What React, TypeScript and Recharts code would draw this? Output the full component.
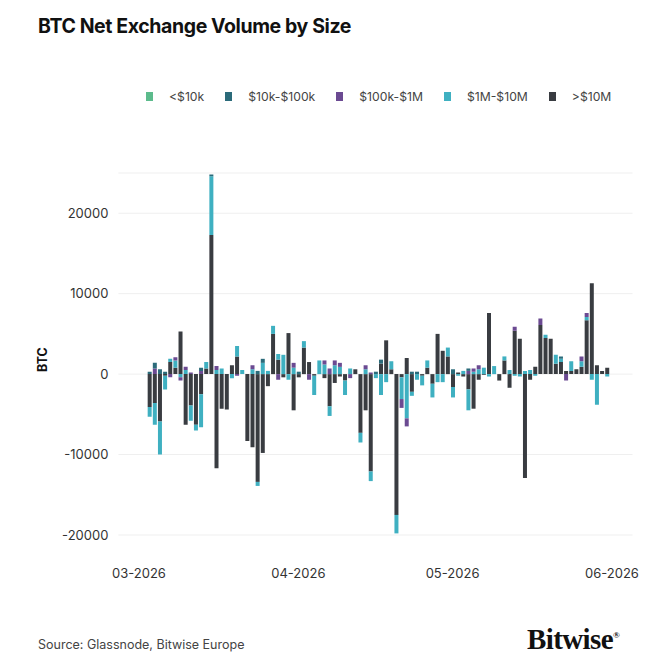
import { BarChart, Bar, XAxis, YAxis, CartesianGrid } from 'recharts';

// daily net exchange flows, 03 Mar - 31 May 2026 (BTC), one value per day
const dayStart = 2; // index of first bar, days after 1 Mar

const over10m = [
  -4100, -3600, -5900, -200, 1500, 800, 5300, -6300, -3900, -6300,
  -2500, 700, 17300, -11700, -4300, -4400, 1100, 2200, 0, -8300,
  -9100, -13400, -9800, -1500, 5000, 1800, -400, 5100, -4500, -400,
  3300, 1500, -200, 0, -500, -4000, -1100, -300, -800, 0,
  600, -7300, -4500, -12100, 0, 1300, 4200, 600, -17500, -400,
  2000, -2200, 0, -200, 800, -1200, 5000, 2900, 2200, -1600,
  200, -300, -1900, -4300, -700, -100, 7600, 0, -800, 1700,
  -1700, 5400, 4400, -12900, -700, 900, 6100, 4500, 4400, 1300,
  1500, 400, 400, 600, 900, 6700, 11300, 1100, 400, 800,
];
const m1to10m = [
  -1200, -2700, -4100, -1700, 400, 900, -400, 500, -1900, -700,
  -4100, 800, 7300, 500, 700, 0, -500, 1300, 500, 0,
  600, -500, 1400, 400, 1000, 700, 2400, -700, 800, 0,
  800, 0, -2400, 1700, 1200, -1200, 1100, 900, -1800, 700,
  0, -1200, 600, -1200, -500, -2600, -1000, 1000, -2300, -2700,
  -5500, -500, -700, -1200, 900, -1700, -1000, -1000, 1100, -1300,
  -200, 400, -2600, 300, 600, 800, -300, 1000, 0, 500,
  500, -200, -300, 400, 500, -200, 0, 400, 0, 1100,
  400, 0, 1200, 0, 700, 400, -700, -3800, 0, -300,
];
const k100to1m = [
  0, 700, 0, 0, -400, 400, -400, 400, 200, 0,
  400, 0, 0, 500, 0, 0, 0, -200, 0, 0,
  500, 0, 0, 0, 0, -700, 0, 0, 600, 0,
  0, -700, 0, 0, 500, 700, 600, 500, 0, -500,
  0, 0, 500, 200, 0, 0, 0, 0, 0, -1100,
  -1000, 0, 0, 0, 0, 0, 0, 0, 0, 0,
  0, 0, 400, 400, 500, 0, 0, 0, 0, 0,
  0, 500, 0, 0, 0, 0, 800, 0, 0, 0,
  0, -800, 0, 0, 600, 500, 0, 0, 0, 0,
];
const k10to100k = [
  300, 700, 600, 300, 0, 0, 0, 0, 0, 0,
  400, 0, 200, 0, 0, 0, 0, 0, 0, 0,
  0, 400, 500, 0, 0, 0, 0, 0, 0, 300,
  0, 0, 0, 0, 0, 0, 0, 0, 0, 0,
  0, 0, 0, 0, 300, 500, 0, 0, 0, 0,
  0, 300, 300, 0, 0, 0, 0, 0, 0, 600,
  0, 0, 300, 0, 0, 0, 0, 0, 0, 0,
  0, 0, 0, 0, 0, 0, 0, 0, 0, 0,
  300, 0, 0, 0, 0, 0, 0, 0, 0, 0,
];
const under10k = new Array(over10m.length).fill(0);

const monthTicks = [0, 31, 61, 92];
const monthLabels = ['03-2026', '04-2026', '05-2026', '06-2026'];
const yTicks = [-20000, -10000, 0, 10000, 20000];

const series = [
  { key: 'big', name: '>$10M', color: '#393c41' },
  { key: 'm', name: '$1M-$10M', color: '#3fb0c1' },
  { key: 'k', name: '$100k-$1M', color: '#6b4a92' },
  { key: 't', name: '$10k-$100k', color: '#2b6b7a' },
  { key: 's', name: '<$10k', color: '#5cbb8c' },
];

const data = over10m.map((v, i) => ({
  day: dayStart + i,
  big: v,
  m: m1to10m[i],
  k: k100to1m[i],
  t: k10to100k[i],
  s: under10k[i],
}));

const font = 'Inter, "Liberation Sans", sans-serif';

export default function App() {
  const legend = [...series].reverse();
  return (
    <div style={{ position: 'absolute', left: 0, top: 0, width: 671, height: 671, background: '#fff', fontFamily: font }}>
      <div style={{ position: 'absolute', left: 38, top: 14, fontSize: 19.5, fontWeight: 700, letterSpacing: -0.4, color: '#111' }}>
        BTC Net Exchange Volume by Size
      </div>

      <div style={{ position: 'absolute', left: 146, top: 89, display: 'flex', fontSize: 12.2, color: '#444' }}>
        {legend.map(s => (
          <div key={s.key} style={{ display: 'flex', alignItems: 'center', marginRight: 21 }}>
            <span style={{ width: 7, height: 9, background: s.color, marginRight: 16, display: 'inline-block' }} />
            <span>{s.name}</span>
          </div>
        ))}
      </div>

      <div style={{ position: 'absolute', left: 26, top: 352, width: 32, textAlign: 'center', transform: 'rotate(-90deg)', fontSize: 12.5, fontWeight: 700, color: '#111' }}>
        BTC
      </div>

      <BarChart
        width={671}
        height={671}
        data={data}
        stackOffset="sign"
        margin={{ top: 173, right: 38.5, bottom: 106, left: 0 }}
        style={{ position: 'absolute', left: 0, top: 0 }}
      >
        <CartesianGrid vertical={false} stroke="#efefef" />
        <XAxis
          type="number"
          dataKey="day"
          domain={[-4, 96]}
          ticks={monthTicks}
          tickFormatter={v => monthLabels[monthTicks.indexOf(v)] ?? ''}
          allowDataOverflow
          axisLine={false}
          tickLine={false}
          tickSize={0}
          tickMargin={34}
          height={30}
          tick={{ fill: '#333', fontSize: 13, fontFamily: font }}
        />
        <YAxis
          domain={[-20000, 25000]}
          ticks={yTicks}
          allowDataOverflow
          axisLine={false}
          tickLine={false}
          tickSize={0}
          tickMargin={10}
          width={118.4}
          tick={{ fill: '#333', fontSize: 13, fontFamily: font }}
        />
        {series.map(s => (
          <Bar key={s.key} dataKey={s.key} name={s.name} stackId="a" fill={s.color} barSize={4} isAnimationActive={false} />
        ))}
      </BarChart>

      <div style={{ position: 'absolute', left: 38, top: 637, fontSize: 12.5, color: '#444' }}>
        Source: Glassnode, Bitwise Europe
      </div>
      <div style={{ position: 'absolute', left: 527, top: 623, fontSize: 29, fontFamily: '"Liberation Serif", "DejaVu Serif", serif', fontWeight: 700, color: '#111', letterSpacing: -0.6 }}>
        Bitwise<span style={{ fontSize: 9, verticalAlign: 'top', position: 'relative', top: 7 }}>®</span>
      </div>
    </div>
  );
}
